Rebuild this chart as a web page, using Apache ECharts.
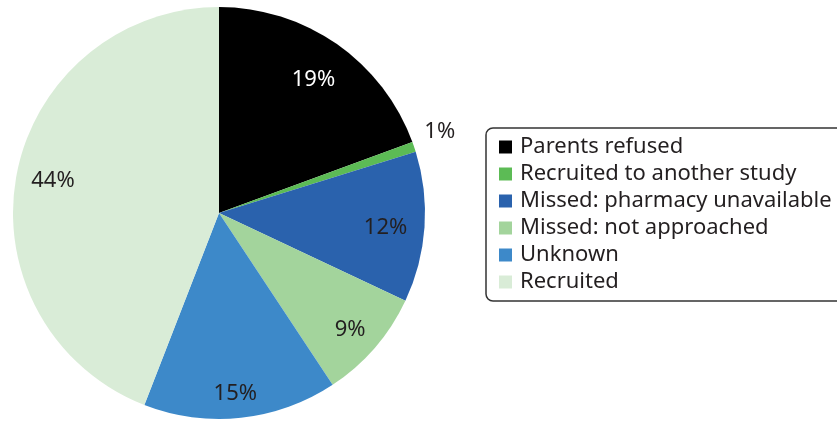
<!DOCTYPE html>
<html>
<head>
<meta charset="utf-8">
<script src="https://cdn.jsdelivr.net/npm/echarts@6/dist/echarts.min.js"></script>
<style>
html,body{margin:0;padding:0;background:#fff;}
#chart{width:837px;height:421px;}
</style>
</head>
<body>
<div id="chart"></div>
<script>
const categories = ['Parents refused', 'Recruited to another study', 'Missed: pharmacy unavailable', 'Missed: not approached', 'Unknown', 'Recruited'];
const values = [19.4, 0.8, 11.8, 8.7, 15.2, 44.1];
const colors = ['#000000', '#5cbb55', '#2a62ad', '#a3d49c', '#3d89c9', '#d9ecd7'];
const labelColors = ['#ffffff', '#231f20', '#231f20', '#231f20', '#231f20', '#231f20'];

const FONT = '"Noto Sans", "Open Sans", sans-serif';

const chart = echarts.init(document.getElementById('chart'), null, {renderer: 'canvas'});

// small label nudges to mimic the original label placement
const labelNudge = [[-4, 8], [-8, -11], [-5, 3], [1, 4], [-2, 10], [3, -1]];

const baseData = categories.map((c, i) => ({name: c, value: values[i], itemStyle: {color: colors[i]}}));
const labelData = categories.map((c, i) => {
  const item = {
    name: c, value: values[i],
    itemStyle: {color: 'rgba(0,0,0,0)'},
    label: {color: labelColors[i], offset: labelNudge[i]}
  };
  if (i === 1) {
    item.label.position = 'outside';
    item.labelLine = {show: false, length: 14, length2: 0};
  }
  return item;
});

chart.setOption({
  animation: false,
  legend: {
    orient: 'vertical',
    left: 486,
    top: 128,
    data: categories,
    icon: 'rect',
    itemWidth: 13,
    itemHeight: 13,
    itemGap: 5,
    padding: [8, 12, 8, 13],
    borderColor: '#333333',
    borderWidth: 1.5,
    borderRadius: 7,
    backgroundColor: '#ffffff',
    selectedMode: false,
    textStyle: {fontFamily: FONT, fontSize: 22, color: '#231f20', padding: [0, 0, 0, 3]}
  },
  series: [
    {
      type: 'pie',
      center: [219, 213],
      radius: [0, 206],
      startAngle: 90,
      clockwise: true,
      silent: true,
      avoidLabelOverlap: false,
      label: {show: false},
      labelLine: {show: false},
      emphasis: {disabled: true},
      data: baseData
    },
    {
      type: 'pie',
      center: [219, 213],
      radius: [132, 206],
      startAngle: 90,
      clockwise: true,
      silent: true,
      avoidLabelOverlap: false,
      legendHoverLink: false,
      label: {
        show: true,
        position: 'inside',
        fontFamily: FONT,
        fontSize: 22,
        formatter: p => Math.round(p.value) + '%'
      },
      labelLine: {show: false},
      emphasis: {disabled: true},
      data: labelData
    }
  ]
});
</script>
</body>
</html>
